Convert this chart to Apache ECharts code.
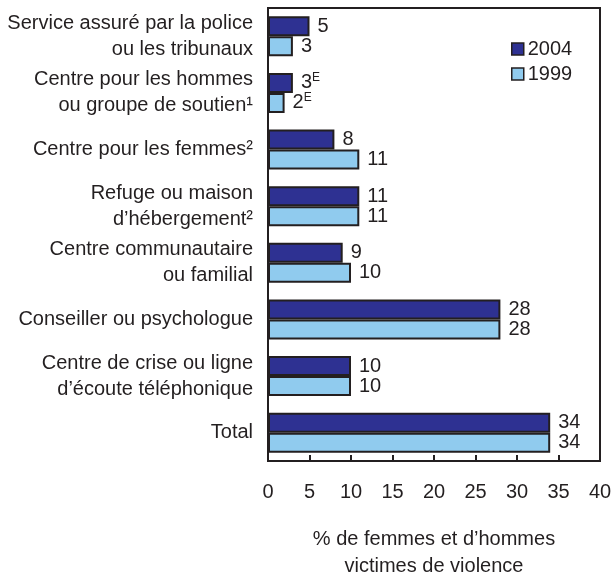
<!DOCTYPE html>
<html>
<head>
<meta charset="utf-8">
<script src="https://cdn.jsdelivr.net/npm/echarts@6/dist/echarts.min.js"></script>
<style>
  html, body { margin: 0; padding: 0; background: #fff; }
  #chart { width: 613px; height: 579px; }
</style>
</head>
<body>
<div id="chart"></div>
<script>
const categories = [
  "Service assuré par la police\nou les tribunaux",
  "Centre pour les hommes\nou groupe de soutien¹",
  "Centre pour les femmes²",
  "Refuge ou maison\nd’hébergement²",
  "Centre communautaire\nou familial",
  "Conseiller ou psychologue",
  "Centre de crise ou ligne\nd’écoute téléphonique",
  "Total"
];
const values2004 = [5, 3, 8, 11, 9, 28, 10, 34];
const values1999 = [3, 2, 11, 11, 10, 28, 10, 34];
// "E" = use with caution (superscript next to the value)
const estimate2004 = [false, true, false, false, false, false, false, false];
const estimate1999 = [false, true, false, false, false, false, false, false];
const xTicks = [0, 5, 10, 15, 20, 25, 30, 35, 40];

const ink = "#231F20";
const font = "Liberation Sans";

const chart = echarts.init(document.getElementById("chart"));

function valueLabel(flags) {
  return {
    show: true,
    position: "right",
    distance: 8,
    formatter: (p) => "{v|" + p.value + "}" + (flags[p.dataIndex] ? "{e|E}" : ""),
    rich: {
      v: { fontSize: 20, fontFamily: font, color: ink, lineHeight: 22 },
      e: { fontSize: 12, fontFamily: font, color: ink, lineHeight: 12, verticalAlign: "top" }
    }
  };
}

const option = {
  animation: false,
  textStyle: { fontFamily: font, color: ink },
  grid: {
    left: 268, right: 13, top: 8, bottom: 118,
    show: true, borderColor: ink, borderWidth: 2,
    containLabel: false, outerBoundsMode: "none"
  },
  legend: {
    orient: "vertical",
    left: 506, top: 34,
    itemWidth: 12, itemHeight: 12, itemGap: 5,
    icon: "rect",
    itemStyle: { borderColor: ink, borderWidth: 1.5 },
    textStyle: { fontSize: 20, fontFamily: font, color: ink, padding: [0, 0, 0, -1] },
    data: ["2004", "1999"]
  },
  xAxis: {
    type: "value",
    min: xTicks[0], max: xTicks[xTicks.length - 1], interval: 5,
    axisLine: { show: true, lineStyle: { color: ink, width: 2 } },
    axisTick: { show: true, inside: true, length: 6, lineStyle: { color: ink, width: 2 } },
    splitLine: { show: false },
    axisLabel: { fontSize: 20, fontFamily: font, color: ink, margin: 21 },
    name: "% de femmes et d’hommes\nvictimes de violence",
    nameLocation: "middle",
    nameGap: 65,
    nameTextStyle: { fontSize: 20, fontFamily: font, color: ink, lineHeight: 27 }
  },
  yAxis: {
    type: "category",
    inverse: true,
    data: categories,
    axisLine: { show: true, lineStyle: { color: ink, width: 2 } },
    axisTick: { show: false },
    axisLabel: { fontSize: 20, fontFamily: font, color: ink, margin: 15, lineHeight: 26, align: "right" }
  },
  series: [
    {
      name: "2004",
      type: "bar",
      data: values2004,
      barWidth: 20,
      barGap: "0%",
      itemStyle: { color: "#2E3192", borderColor: ink, borderWidth: 2 },
      label: valueLabel(estimate2004)
    },
    {
      name: "1999",
      type: "bar",
      data: values1999,
      barWidth: 20,
      barGap: "0%",
      itemStyle: { color: "#90CBEE", borderColor: ink, borderWidth: 2 },
      label: valueLabel(estimate1999)
    }
  ]
};

chart.setOption(option);
</script>
</body>
</html>
